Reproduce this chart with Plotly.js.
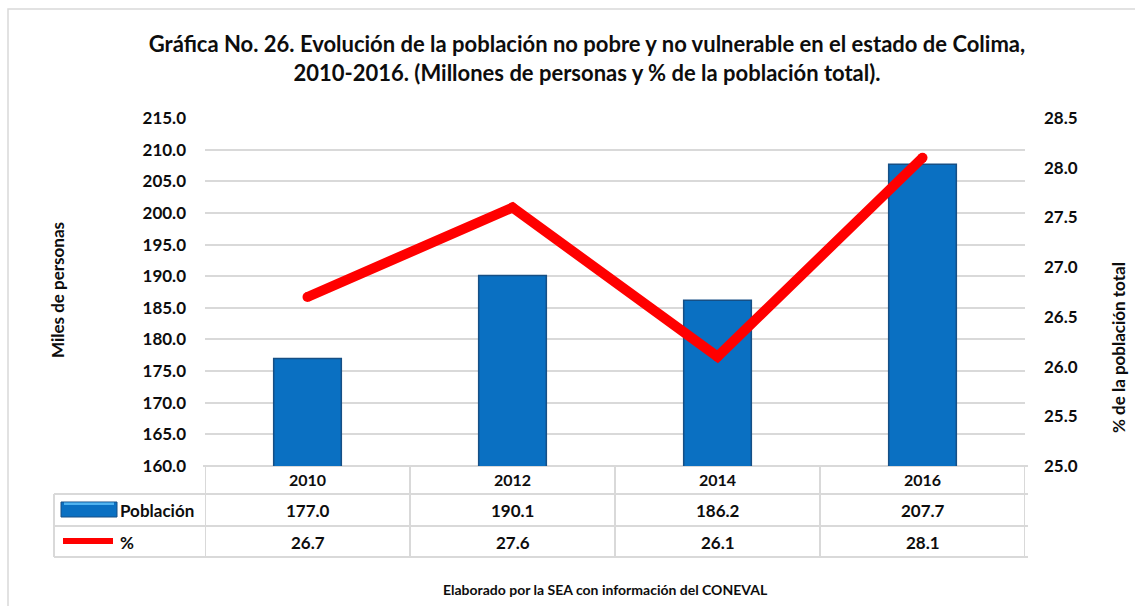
<!DOCTYPE html>
<html>
<head>
<meta charset="utf-8">
<script src="https://cdn.plot.ly/plotly-3.0.1.min.js"></script>
<style>
html,body{margin:0;padding:0;background:#fff;}
#chart{width:1135px;height:606px;}
</style>
</head>
<body>
<div id="chart"></div>
<script>
// ---- data ----
const years = ['2010', '2012', '2014', '2016'];
const poblacion = [177.0, 190.1, 186.2, 207.7];
const porcentaje = [26.7, 27.6, 26.1, 28.1];
const seriesNames = ['Población', '%'];
const titleText = 'Gráfica No. 26. Evolución de la población no pobre y no vulnerable en el estado de Colima,<br>2010-2016. (Millones de personas y % de la población total).';
const leftTitle = 'Miles de personas';
const rightTitle = '% de la población total';
const footer = 'Elaborado por la SEA con información del CONEVAL';

// ---- layout helpers (pixel -> paper) ----
const W = 1135, H = 606;
const mL = 205, mR = 110, mT = 118, mB = 140;
const pw = W - mL - mR, ph = H - mT - mB;
const px = p => (p - mL) / pw;
const py = p => (H - mB - p) / ph;

const FONT = 'Lato, "Open Sans", sans-serif';
const TXT = '#0d0d0d';
const GRID = '#d9d9d9';
const BLUE = '#0a70c2';
const BLUE_EDGE = '#164f85';
const RED = '#ff0000';

const traces = [
  {
    type: 'bar',
    x: years,
    y: poblacion,
    name: seriesNames[0],
    width: 0.33,
    marker: {color: BLUE, line: {color: BLUE_EDGE, width: 1.5}},
    hoverinfo: 'x+y'
  },
  {
    type: 'scatter',
    mode: 'lines+markers',
    x: years,
    y: porcentaje,
    name: seriesNames[1],
    yaxis: 'y2',
    line: {color: RED, width: 10},
    marker: {color: RED, size: 10, line: {width: 0}},
    hoverinfo: 'x+y'
  }
];

// table lines
const shapes = [];
const lineStyle = {color: GRID, width: 2};
[494, 526, 557].forEach(p => {
  shapes.push({type: 'line', xref: 'paper', yref: 'paper', x0: px(54), x1: px(1028), y0: py(p), y1: py(p), line: lineStyle, layer: 'below'});
});
shapes.push({type: 'line', xref: 'paper', yref: 'paper', x0: px(203), x1: px(1028), y0: py(466), y1: py(466), line: lineStyle, layer: 'below'});
for (let i = 0; i <= years.length; i++) {
  shapes.push({type: 'line', xref: 'x', yref: 'paper', x0: i - 0.5, x1: i - 0.5, y0: py(466), y1: py(557), line: lineStyle, layer: 'below'});
}
shapes.push({type: 'line', xref: 'paper', yref: 'paper', x0: px(54), x1: px(54), y0: py(494), y1: py(557), line: lineStyle, layer: 'below'});
// legend keys inside the table
shapes.push({type: 'rect', xref: 'paper', yref: 'paper', x0: px(61), x1: px(117), y0: py(517), y1: py(502), fillcolor: BLUE, line: {color: BLUE_EDGE, width: 1}});
shapes.push({type: 'rect', xref: 'paper', yref: 'paper', x0: px(64), x1: px(114), y0: py(505), y1: py(502.5), fillcolor: '#4fb3f0', line: {width: 0}});
shapes.push({type: 'line', xref: 'paper', yref: 'paper', x0: px(63), x1: px(113), y0: py(541), y1: py(541), line: {color: RED, width: 6}});
// outer frame
shapes.push({type: 'rect', xref: 'paper', yref: 'paper', x0: px(8), x1: px(1145), y0: py(9), y1: py(620), line: {color: '#d9d9d9', width: 1.5}, layer: 'below'});

const cellFont = {family: FONT, size: 17, color: TXT, weight: 'bold'};
const annotations = [];
years.forEach((yr, i) => {
  annotations.push({xref: 'x', yref: 'paper', x: i, y: py(510), text: poblacion[i].toFixed(1), showarrow: false, xanchor: 'center', yanchor: 'middle', font: cellFont});
  annotations.push({xref: 'x', yref: 'paper', x: i, y: py(542), text: porcentaje[i].toFixed(1), showarrow: false, xanchor: 'center', yanchor: 'middle', font: cellFont});
});
annotations.push({xref: 'paper', yref: 'paper', x: px(118), y: py(510), text: seriesNames[0], showarrow: false, xanchor: 'left', yanchor: 'middle', font: cellFont});
annotations.push({xref: 'paper', yref: 'paper', x: px(118), y: py(542), text: seriesNames[1], showarrow: false, xanchor: 'left', yanchor: 'middle', font: cellFont});
annotations.push({xref: 'paper', yref: 'paper', x: px(57), y: py(290), text: leftTitle, textangle: -90, showarrow: false, xanchor: 'center', yanchor: 'middle', font: {family: FONT, size: 17, color: TXT, weight: 'bold'}});
annotations.push({xref: 'paper', yref: 'paper', x: px(1118), y: py(348), text: rightTitle, textangle: -90, showarrow: false, xanchor: 'center', yanchor: 'middle', font: {family: FONT, size: 17, color: TXT, weight: 'bold'}});
annotations.push({xref: 'paper', yref: 'paper', x: px(605), y: py(589), text: footer, showarrow: false, xanchor: 'center', yanchor: 'middle', font: {family: FONT, size: 14, color: TXT, weight: 'bold'}});

const layout = {
  width: W, height: H,
  margin: {l: mL, r: mR, t: mT, b: mB, pad: 0},
  paper_bgcolor: '#fff', plot_bgcolor: '#fff',
  showlegend: false,
  title: {
    text: titleText,
    x: 587 / W, xanchor: 'center',
    y: 1 - 52 / H, yanchor: 'top',
    font: {family: FONT, size: 22, color: TXT, weight: 'bold'}
  },
  xaxis: {
    type: 'category',
    range: [-0.5, 3.5],
    showgrid: false, zeroline: false, showline: false,
    ticks: '', ticklabelstandoff: 3,
    tickfont: {family: FONT, size: 16, color: TXT, weight: 'bold'},
    fixedrange: true
  },
  yaxis: {
    range: [160, 215], dtick: 5, tick0: 160, tickformat: '.1f',
    showgrid: true, gridcolor: GRID, gridwidth: 2,
    zeroline: false, showline: false, ticks: '',
    ticklabelstandoff: 18,
    tickfont: {family: FONT, size: 17, color: TXT, weight: 'bold'},
    fixedrange: true
  },
  yaxis2: {
    overlaying: 'y', side: 'right',
    range: [25, 28.5], dtick: 0.5, tick0: 25, tickformat: '.1f',
    showgrid: false, zeroline: false, showline: false, ticks: '',
    ticklabelstandoff: 18,
    tickfont: {family: FONT, size: 17, color: TXT, weight: 'bold'},
    fixedrange: true
  },
  shapes: shapes,
  annotations: annotations
};

Plotly.newPlot('chart', traces, layout, {displayModeBar: false, staticPlot: true});
</script>
</body>
</html>
